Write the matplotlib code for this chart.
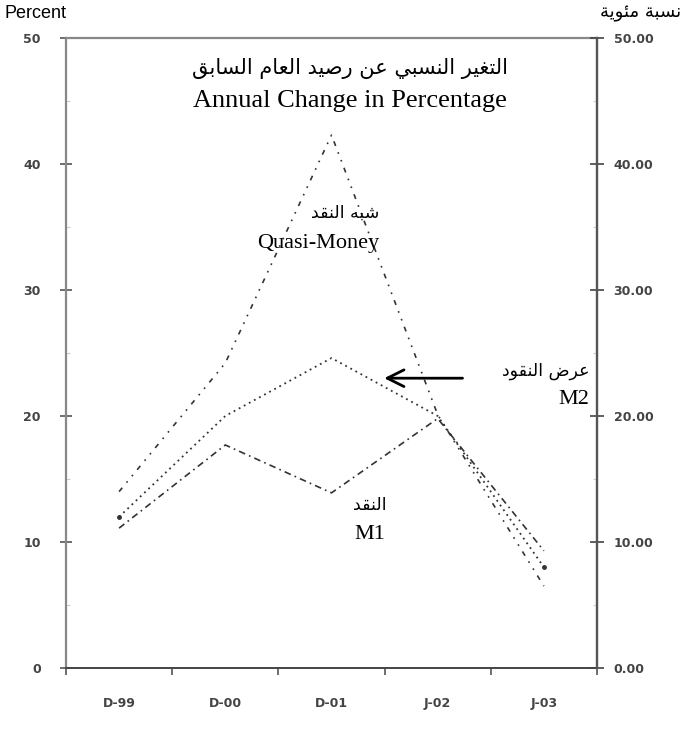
import numpy as np
import matplotlib
matplotlib.use('Agg')
import matplotlib.pyplot as plt
from matplotlib.ticker import FixedLocator, FormatStrFormatter

# قيم السلاسل (نسبة مئوية)
periods = ['D-99', 'D-00', 'D-01', 'J-02', 'J-03']
m1 = [11.1, 17.7, 13.9, 19.8, 9.3]
m2 = [12.0, 20.0, 24.6, 20.0, 8.0]
quasi = [14.0, 24.2, 42.3, 20.1, 6.5]

title_ar = 'التغير النسبي عن رصيد العام السابق'
title_en = 'Annual Change in Percentage'
unit_ar = 'نسبة مئوية'
unit_en = 'Percent'
lbl_quasi_ar = 'شبه النقد'
lbl_m2_ar = 'عرض النقود'
lbl_m1_ar = 'النقد'

# matplotlib does not join Arabic letters, so use presentation forms
AR_FORMS = {
    'ا': (0xFE8D, False), 'ب': (0xFE8F, True), 'ة': (0xFE93, False), 'ت': (0xFE95, True),
    'د': (0xFEA9, False), 'ر': (0xFEAD, False), 'س': (0xFEB1, True), 'ش': (0xFEB5, True),
    'ص': (0xFEB9, True), 'ض': (0xFEBD, True), 'ع': (0xFEC9, True), 'غ': (0xFECD, True),
    'ق': (0xFED5, True), 'ل': (0xFEDD, True), 'م': (0xFEE1, True), 'ن': (0xFEE5, True),
    'ه': (0xFEE9, True), 'و': (0xFEED, False), 'ي': (0xFEF1, True), 'ئ': (0xFE89, True),
}


def ar(s):
    out = []
    for i, ch in enumerate(s):
        if ch not in AR_FORMS:
            out.append(ch)
            continue
        base, dual = AR_FORMS[ch]
        prev = s[i - 1] if i > 0 else ''
        nxt = s[i + 1] if i + 1 < len(s) else ''
        jp = prev in AR_FORMS and AR_FORMS[prev][1]
        jn = dual and nxt in AR_FORMS
        if jp and jn:
            code = base + 3
        elif jp:
            code = base + 1
        elif jn:
            code = base + 2
        else:
            code = base
        out.append(chr(code))
    return ''.join(reversed(out))


x = np.arange(len(periods))
ink = '#333333'
serif = 'Liberation Serif'
arfont = 'DejaVu Sans'

fig = plt.figure(figsize=(6.84, 7.38), dpi=100)
ax = fig.add_axes([66 / 684, 70 / 738, 531 / 684, 630 / 738])

ax.plot(x, quasi, color=ink, lw=1.2, linestyle=(0, (3, 4, 1, 4, 1, 4)))
ax.plot(x, m2, color=ink, lw=1.3, linestyle=(0, (1, 2.2)))
ax.plot(x, m1, color=ink, lw=1.2, linestyle=(0, (4, 2.5, 1, 2.5)))
ax.plot(x[[0, 4]], [m2[0], m2[4]], 'o', color=ink, ms=2.5)

ax.set_xlim(-0.5, 4.5)
ax.set_ylim(0, 50)

# y axis
ax.yaxis.set_major_locator(FixedLocator(np.arange(0, 51, 10)))
ax.yaxis.set_minor_locator(FixedLocator(np.arange(5, 50, 10)))
ax.tick_params(axis='y', which='major', direction='inout', length=8, width=1.2,
               color='#555555', labelsize=9, labelcolor='#444444', pad=14)
ax.tick_params(axis='y', which='minor', direction='in', length=3, width=0.8, color='#cccccc')
for t in ax.get_yticklabels():
    t.set_fontweight('bold')

# x axis: labels at categories, ticks between them
ax.set_xticks(x)
ax.set_xticklabels(periods)
ax.xaxis.set_minor_locator(FixedLocator(np.arange(-0.5, 4.6, 1)))
ax.tick_params(axis='x', which='major', length=0, labelsize=9, labelcolor='#444444', pad=21)
ax.tick_params(axis='x', which='minor', direction='out', length=5, width=1.2, color='#555555')
for t in ax.get_xticklabels():
    t.set_fontweight('bold')

for side in ['left', 'top', 'right']:
    ax.spines[side].set_color('#888888')
    ax.spines[side].set_linewidth(1.6)
ax.spines['bottom'].set_color('#444444')
ax.spines['bottom'].set_linewidth(1.4)

# right axis
ax2 = ax.twinx()
ax2.set_ylim(0, 50)
ax2.yaxis.set_major_locator(FixedLocator(np.arange(0, 51, 10)))
ax2.yaxis.set_minor_locator(FixedLocator(np.arange(5, 50, 10)))
ax2.yaxis.set_major_formatter(FormatStrFormatter('%.2f'))
ax2.tick_params(axis='y', which='major', direction='inout', length=10, width=1.2,
                color='#444444', labelsize=9, labelcolor='#444444', pad=7)
ax2.tick_params(axis='y', which='minor', direction='in', length=3, width=0.8, color='#cccccc')
for t in ax2.get_yticklabels():
    t.set_fontweight('bold')
for s in ax2.spines.values():
    s.set_visible(False)
ax2.spines['right'].set_visible(True)
ax2.spines['right'].set_color('#555555')
ax2.spines['right'].set_linewidth(1.6)

# titles
ax.text(0.535, 0.952, ar(title_ar), transform=ax.transAxes, ha='center', va='center',
        fontsize=15, family=arfont, color='black')
ax.text(0.535, 0.900, title_en, transform=ax.transAxes, ha='center', va='center',
        fontsize=19, family=serif, color='black')

# series labels
ax.text(2.45, 36.1, ar(lbl_quasi_ar), ha='right', va='center', fontsize=12.5, family=arfont)
ax.text(2.45, 33.7, 'Quasi-Money', ha='right', va='center', fontsize=16, family=serif)
ax.text(4.43, 23.6, ar(lbl_m2_ar), ha='right', va='center', fontsize=12.5, family=arfont)
ax.text(4.43, 21.3, 'M2', ha='right', va='center', fontsize=16, family=serif)
ax.text(2.36, 12.9, ar(lbl_m1_ar), ha='center', va='center', fontsize=12.5, family=arfont)
ax.text(2.36, 10.6, 'M1', ha='center', va='center', fontsize=16, family=serif)

ax.annotate('', xy=(2.47, 23.0), xytext=(3.26, 23.0),
            arrowprops=dict(arrowstyle='->', color='black', lw=2, mutation_scale=30))

fig.text(5 / 684, 1 - 13 / 738, unit_en, ha='left', va='center', fontsize=13,
         family='Liberation Sans')
fig.text(681 / 684, 1 - 13 / 738, ar(unit_ar), ha='right', va='center', fontsize=13,
         family=arfont)

fig.savefig('out.png', dpi=100)
